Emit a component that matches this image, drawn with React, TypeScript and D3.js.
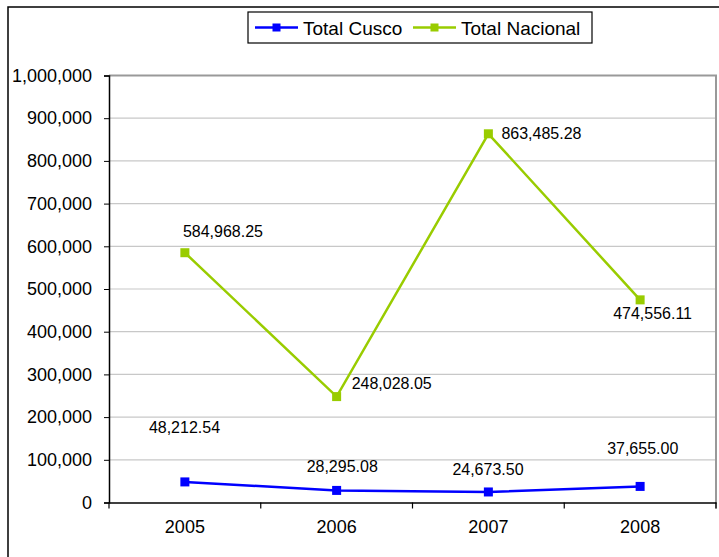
import * as d3 from "d3";
import React, { useEffect, useRef } from "react";

const years = ["2005", "2006", "2007", "2008"];
const cuscoValues = [48212.54, 28295.08, 24673.5, 37655.0];
const nacionalValues = [584968.25, 248028.05, 863485.28, 474556.11];
const yTicks = [0, 100000, 200000, 300000, 400000, 500000, 600000, 700000, 800000, 900000, 1000000];

// label offsets (left edge / vertical centre relative to the point)
const cuscoLabelOffsets: [number, number][] = [[-36, -54], [-30, -24], [-36, -22], [-33, -38]];
const nacionalLabelOffsets: [number, number][] = [[-2, -21], [15, -13], [13, 0], [-27, 14]];

const App: React.FC = () => {
  const ref = useRef<SVGSVGElement>(null);

  useEffect(() => {
    const width = 719;
    const height = 557;
    const margin = { top: 75.5, right: 3, bottom: 54.5, left: 109 };
    const font = "'Liberation Sans', Arial, sans-serif";

    d3.select(ref.current).selectAll("*").remove();

    const svg = d3.select(ref.current)
      .attr("width", width)
      .attr("height", height)
      .style("font-family", font);

    // Outer frame
    svg.append("rect")
      .attr("x", 8)
      .attr("y", 7)
      .attr("width", 900)
      .attr("height", 900)
      .attr("fill", "white")
      .attr("stroke", "#000")
      .attr("stroke-width", 1.5);

    const x = d3.scaleBand()
      .domain(years)
      .range([margin.left, width - margin.right]);

    const y = d3.scaleLinear()
      .domain([0, 1000000])
      .range([height - margin.bottom, margin.top]);

    const cx = (d: string) => x(d)! + x.bandwidth() / 2;

    // Gridlines
    svg.append("g")
      .selectAll("line")
      .data(yTicks.filter((t) => t > 0 && t < 1000000))
      .enter()
      .append("line")
      .attr("x1", margin.left)
      .attr("x2", width - margin.right)
      .attr("y1", (d) => y(d))
      .attr("y2", (d) => y(d))
      .attr("stroke", "#c8c8c8")
      .attr("stroke-width", 1.2);

    // Plot area border (top + right)
    svg.append("path")
      .attr("d", `M${margin.left},${y(1000000)}H${width - margin.right}V${y(0) + 6}`)
      .attr("fill", "none")
      .attr("stroke", "#999")
      .attr("stroke-width", 2);

    // Y axis
    const yAxis = svg.append("g")
      .attr("transform", `translate(${margin.left},0)`)
      .call(
        d3.axisLeft(y)
          .tickValues(yTicks)
          .tickSize(5)
          .tickPadding(12)
          .tickFormat((d) => d3.format(",")(d as number))
      );
    yAxis.select(".domain").attr("stroke", "#000").attr("stroke-width", 1.5);
    yAxis.selectAll("line").attr("stroke", "#000");
    yAxis.selectAll("text")
      .style("font-size", "18px")
      .style("font-family", font)
      .attr("fill", "#000");

    // X axis
    const xAxis = svg.append("g")
      .attr("transform", `translate(0,${y(0)})`)
      .call(d3.axisBottom(x).tickSize(0).tickPadding(18));
    xAxis.select(".domain").attr("stroke", "#000").attr("stroke-width", 1.5);
    xAxis.selectAll("text")
      .style("font-size", "18px")
      .style("font-family", font)
      .attr("fill", "#000");

    // boundary ticks on x axis
    const bounds = years.map((d) => x(d)!).concat([x(years[years.length - 1])! + x.bandwidth()]);
    svg.append("g")
      .selectAll("line")
      .data(bounds)
      .enter()
      .append("line")
      .attr("x1", (d) => d)
      .attr("x2", (d) => d)
      .attr("y1", y(0))
      .attr("y2", y(0) + 6)
      .attr("stroke", "#000")
      .attr("stroke-width", 1.2);

    const series = [
      { name: "Total Cusco", values: cuscoValues, color: "#0000ff", offsets: cuscoLabelOffsets },
      { name: "Total Nacional", values: nacionalValues, color: "#99cc00", offsets: nacionalLabelOffsets },
    ];

    const line = d3.line<number>()
      .x((_, i) => cx(years[i]))
      .y((d) => y(d));

    series.forEach((s) => {
      svg.append("path")
        .datum(s.values)
        .attr("d", line)
        .attr("fill", "none")
        .attr("stroke", s.color)
        .attr("stroke-width", 2.5);

      svg.append("g")
        .selectAll("rect")
        .data(s.values)
        .enter()
        .append("rect")
        .attr("x", (_, i) => cx(years[i]) - 4.5)
        .attr("y", (d) => y(d) - 4.5)
        .attr("width", 9)
        .attr("height", 9)
        .attr("fill", s.color);

      svg.append("g")
        .selectAll("text")
        .data(s.values)
        .enter()
        .append("text")
        .attr("x", (_, i) => cx(years[i]) + s.offsets[i][0])
        .attr("y", (d, i) => y(d) + s.offsets[i][1])
        .attr("dominant-baseline", "central")
        .style("font-size", "16px")
        .attr("fill", "#000")
        .text((d) => d3.format(",.2f")(d));
    });

    // Legend
    const legend = svg.append("g");
    legend.append("rect")
      .attr("x", 248)
      .attr("y", 12)
      .attr("width", 344)
      .attr("height", 31)
      .attr("fill", "white")
      .attr("stroke", "#000")
      .attr("stroke-width", 1.2);

    const legendItems = [
      { ...series[0], x: 255 },
      { ...series[1], x: 413 },
    ];
    legendItems.forEach((s) => {
      legend.append("line")
        .attr("x1", s.x)
        .attr("x2", s.x + 43)
        .attr("y1", 27.5)
        .attr("y2", 27.5)
        .attr("stroke", s.color)
        .attr("stroke-width", 2.5);
      legend.append("rect")
        .attr("x", s.x + 21.5 - 4)
        .attr("y", 27.5 - 4)
        .attr("width", 8)
        .attr("height", 8)
        .attr("fill", s.color);
      legend.append("text")
        .attr("x", s.x + 48)
        .attr("y", 28)
        .attr("dominant-baseline", "central")
        .style("font-size", "19px")
        .attr("fill", "#000")
        .text(s.name);
    });
  }, []);

  return (
    <svg ref={ref} style={{ position: "absolute", left: 0, top: 0 }}></svg>
  );
};

export default App;
